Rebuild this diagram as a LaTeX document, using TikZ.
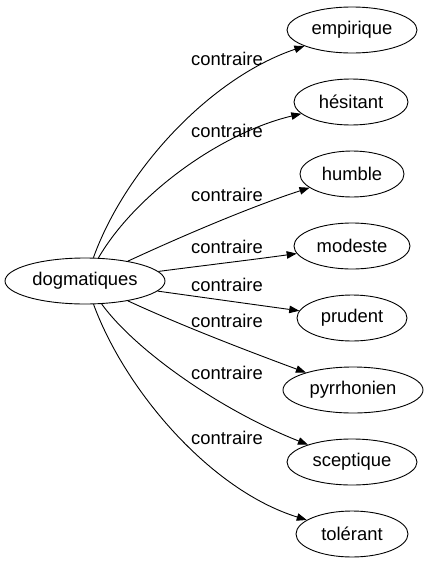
\documentclass[tikz,border=0pt]{standalone}
\usepackage{fontspec}
\setmainfont{Liberation Sans}
\usetikzlibrary{shapes.geometric,arrows.meta}
\begin{document}
\begin{tikzpicture}[x=1pt,y=-1pt,
  every node/.style={font=\fontsize{18.4}{22}\selectfont},
  term/.style={draw,ellipse,line width=0.9pt,minimum height=46pt,inner sep=0pt},
  rel/.style={draw,line width=0.9pt,-{Triangle[length=10pt,width=7.5pt]}},
  lab/.style={inner sep=0pt}]
\useasboundingbox (0,0) rectangle (428,563);
\node[term,minimum width=160pt] (L) at (85,281) {dogmatiques};
\node[term,minimum width=130pt] (r1) at (352,30) {empirique};
\node[term,minimum width=114pt] (r2) at (351,102) {hésitant};
\node[term,minimum width=104pt] (r3) at (352,174) {humble};
\node[term,minimum width=116pt] (r4) at (352,246) {modeste};
\node[term,minimum width=110pt] (r5) at (352,318) {prudent};
\node[term,minimum width=140pt] (r6) at (353,390) {pyrrhonien};
\node[term,minimum width=130pt] (r7) at (352,462) {sceptique};
\node[term,minimum width=112pt] (r8) at (352,534) {tolérant};
\draw[rel] (L) .. controls (125,170) and (210,78) .. (r1);
\draw[rel] (L) .. controls (135,195) and (220,133) .. (r2);
\draw[rel] (L) .. controls (180,237) and (250,207) .. (r3);
\draw[rel] (L) .. controls (200,266) and (250,260) .. (r4);
\draw[rel] (L) .. controls (200,297) and (250,304) .. (r5);
\draw[rel] (L) .. controls (180,325) and (245,350) .. (r6);
\draw[rel] (L) .. controls (135,350) and (220,410) .. (r7);
\draw[rel] (L) .. controls (125,390) and (210,490) .. (r8);
\node[lab] (l1) at (227,59) {contraire};
\node[lab] (l2) at (227,131) {contraire};
\node[lab] (l3) at (227,195) {contraire};
\node[lab] (l4) at (227,247) {contraire};
\node[lab] (l5) at (227,285) {contraire};
\node[lab] (l6) at (227,321) {contraire};
\node[lab] (l7) at (227,373) {contraire};
\node[lab] (l8) at (227,438) {contraire};
\end{tikzpicture}
\end{document}
